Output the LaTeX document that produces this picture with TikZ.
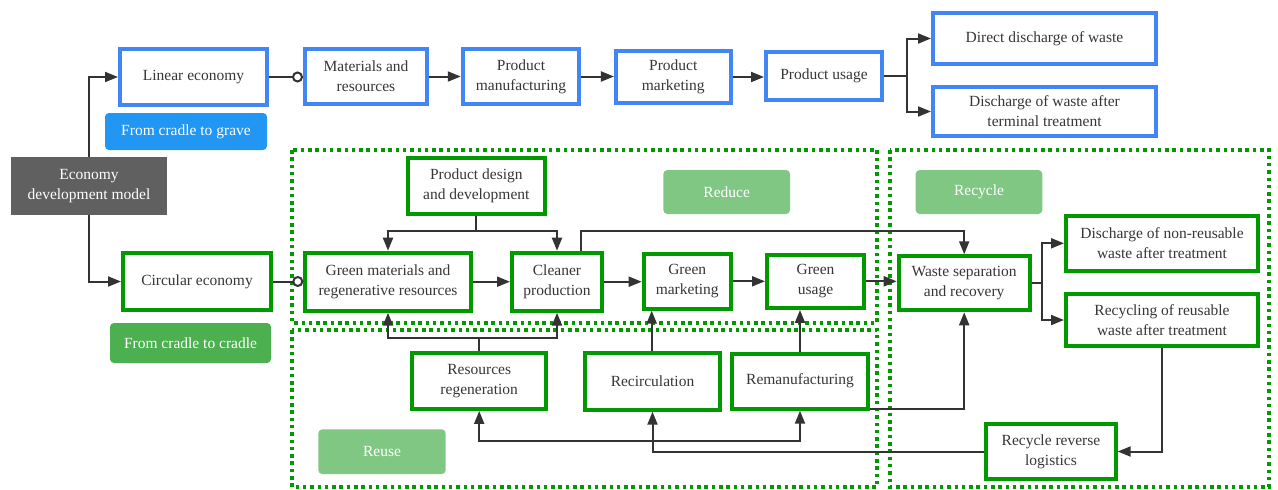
\documentclass[tikz,border=0pt]{standalone}
\usepackage{fontspec}
\setmainfont{Liberation Serif}
\usetikzlibrary{arrows.meta}
\definecolor{lblue}{RGB}{66,133,244}
\definecolor{cgreen}{RGB}{0,153,0}
\definecolor{txt}{RGB}{55,55,55}
\definecolor{ln}{RGB}{51,51,51}
\definecolor{tagblue}{RGB}{33,150,243}
\definecolor{taggreen}{RGB}{76,175,80}
\definecolor{taglight}{RGB}{129,199,132}
\definecolor{dgray}{RGB}{96,96,96}
\begin{document}
\begin{tikzpicture}[x=1pt,y=-1pt,
  font=\rmfamily\fontsize{15.5}{20}\selectfont,
  box/.style={draw, line width=4pt, fill=white, text=txt, align=center, inner sep=0pt},
  bluebox/.style={box, draw=lblue},
  greenbox/.style={box, draw=cgreen},
  tag/.style={rounded corners=4pt, text=white, align=center, inner sep=0pt, draw=none},
  zone/.style={draw=cgreen, line width=3.5pt, dash pattern=on 3.5pt off 3.8pt},
  conn/.style={line width=2pt, draw=ln},
  arr/.style={conn, -{Triangle[length=13pt,width=10pt]}},
  biarr/.style={conn, {Triangle[length=13pt,width=10pt]}-{Triangle[length=13pt,width=10pt]}},
  circarr/.style={conn, -{Circle[open,length=11pt,width=11pt]}}
]
\useasboundingbox (0,0) rectangle (1278,490);

% dotted zones: reduce, reuse, recycle
\draw[zone] (292,150) rectangle (877,323);
\draw[zone] (292,330) rectangle (877,487);
\draw[zone] (890,150) rectangle (1269,487);

% root and the two models
\node[fill=dgray, text=white, align=center, inner sep=0pt,
      minimum width=156pt, minimum height=58pt] (econ) at (89,186)
      {Economy\\development model};
\node[bluebox, minimum width=147pt, minimum height=56pt] (linear) at (193.5,77) {Linear economy};
\node[tag, fill=tagblue, minimum width=162pt, minimum height=37pt] (grave) at (186,131.5) {From cradle to grave};
\node[greenbox, minimum width=148pt, minimum height=57pt] (circ) at (197,281.5) {Circular economy};
\node[tag, fill=taggreen, minimum width=161pt, minimum height=40pt] (cradle) at (190.5,343) {From cradle to cradle};

% linear chain
\node[bluebox, minimum width=122pt, minimum height=55pt] (mat) at (366,76.5) {Materials and\\resources};
\node[bluebox, minimum width=116.5pt, minimum height=55pt] (manu) at (521,76.5) {Product\\manufacturing};
\node[bluebox, minimum width=114.7pt, minimum height=52pt] (mkt) at (673.3,77) {Product\\marketing};
\node[bluebox, minimum width=116pt, minimum height=48pt] (usage) at (824,76) {Product usage};
\node[bluebox, minimum width=223pt, minimum height=51pt] (direct) at (1044.5,38.5) {Direct discharge of waste};
\node[bluebox, minimum width=223pt, minimum height=49pt] (term) at (1044.5,111.5) {Discharge of waste after\\terminal treatment};

% circular chain
\node[greenbox, minimum width=136.7pt, minimum height=56pt] (design) at (476.3,186) {Product design\\and development};
\node[greenbox, minimum width=165.4pt, minimum height=58pt] (gmat) at (388,281.7) {Green materials and\\regenerative resources};
\node[greenbox, minimum width=90pt, minimum height=58pt] (clean) at (557,281.7) {Cleaner\\production};
\node[greenbox, minimum width=87pt, minimum height=54.7pt] (gmkt) at (687.2,281.3) {Green\\marketing};
\node[greenbox, minimum width=97pt, minimum height=53.3pt] (guse) at (815.5,281.3) {Green\\usage};
\node[greenbox, minimum width=131pt, minimum height=54pt] (waste) at (964.2,283.3) {Waste separation\\and recovery};
\node[greenbox, minimum width=192pt, minimum height=54.7pt] (nonre) at (1162,243.3) {Discharge of non-reusable\\waste after treatment};
\node[greenbox, minimum width=192pt, minimum height=52.6pt] (reus) at (1162,320) {Recycling of reusable\\waste after treatment};
\node[greenbox, minimum width=134.3pt, minimum height=56.3pt] (rr) at (479.2,380.8) {Resources\\regeneration};
\node[greenbox, minimum width=135.6pt, minimum height=57pt] (recirc) at (652.5,381.2) {Recirculation};
\node[greenbox, minimum width=136pt, minimum height=55pt] (reman) at (800,381.2) {Remanufacturing};
\node[greenbox, minimum width=129.4pt, minimum height=54.4pt] (rrl) at (1051,451.5) {Recycle reverse\\logistics};

% zone labels
\node[tag, fill=taglight, minimum width=126.7pt, minimum height=44pt] (lreduce) at (726.7,192) {Reduce};
\node[tag, fill=taglight, minimum width=126.6pt, minimum height=44pt] (lrecycle) at (979,192) {Recycle};
\node[tag, fill=taglight, minimum width=127.4pt, minimum height=44.7pt] (lreuse) at (382,451.7) {Reuse};

% junction points
\coordinate (dfork) at (476.3,231);
\coordinate (cup) at (581,231);
\coordinate (rfork) at (479.2,338.3);
\coordinate (ufork) at (907,76);
\coordinate (wfork) at (1041.7,283.3);
\coordinate (rjoin) at (600,440.7);

% root connectors
\draw[arr] (econ.north) |- (linear.west);
\draw[arr] (econ.south) |- (circ.west);

% linear economy flow
\draw[circarr] (linear.east) -- (linear.east -| mat.west);
\draw[arr] (mat.east) -- (mat.east -| manu.west);
\draw[arr] (manu.east) -- (manu.east -| mkt.west);
\draw[arr] (mkt.east) -- (mkt.east -| usage.west);
\draw[conn] (usage.east) -- (ufork);
\draw[arr] (ufork) |- (direct.west);
\draw[arr] (ufork) |- (term.west);

% circular economy flow
\draw[circarr] (circ.east) -- (circ.east -| gmat.west);
\draw[conn] (design.south) -- (dfork);
\draw[arr] (dfork) -| (gmat.north);
\draw[arr] (dfork) -| (clean.north);
\draw[arr] (gmat.east) -- (gmat.east -| clean.west);
\draw[arr] (clean.east) -- (clean.east -| gmkt.west);
\draw[arr] (gmkt.east) -- (gmkt.east -| guse.west);
\draw[arr] (guse.east) -- (guse.east -| waste.west);
\draw[arr] (cup |- clean.north) -- (cup) -| (waste.north);
\draw[conn] (waste.east) -- (wfork);
\draw[arr] (wfork) |- (nonre.west);
\draw[arr] (wfork) |- (reus.west);

% reuse loops
\draw[conn] (rr.north) -- (rfork);
\draw[arr] (rfork) -| (gmat.south);
\draw[arr] (rfork) -| (clean.south);
\draw[arr] (recirc.north -| 651.7,0) -- (gmkt.south -| 651.7,0);
\draw[arr] (reman.north) -- (reman.north |- guse.south);
\draw[arr] (reman.east |- 0,409) -| (waste.south);
\draw[arr] (reus.south) |- (rrl.east);
\draw[arr] (rrl.west) -| (recirc.south);
\draw[biarr] (rr.south) |- (rjoin) -| (reman.south);
\end{tikzpicture}
\end{document}
